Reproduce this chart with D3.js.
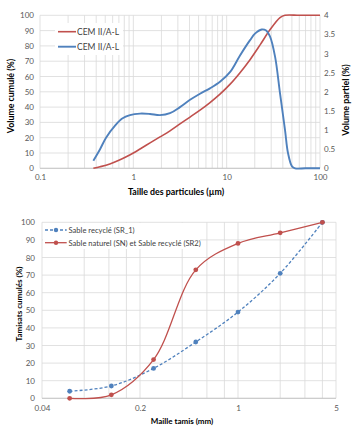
<!DOCTYPE html>
<html>
<head>
<meta charset="utf-8">
<script src="https://cdn.jsdelivr.net/npm/d3@7"></script>
<style>
  html, body { margin: 0; padding: 0; background: #fff; }
  svg { display: block; font-family: Lato, "Open Sans", sans-serif; }
  .tick text { fill: #595959; }
</style>
</head>
<body>
<svg id="chart" width="352" height="428"></svg>
<script>
// ---- Particle size distribution (top chart) ----
const psdSeriesName = "CEM II/A-L";
// cumulative volume (%) vs particle size (µm)
const cumulSize = [0.373, 0.44, 0.56, 0.7, 0.85, 1.0, 1.18, 1.51, 1.93, 2.47, 3.16, 4.05, 5.18, 6.63, 8.48, 10.9, 13.9, 17.8, 23.0, 29.1, 37.3, 42.2, 60, 100];
const cumulVolume = [0, 1, 2.8, 5.2, 7.7, 10, 12.6, 16.6, 20.5, 24.5, 29, 33.5, 38, 43, 48.5, 55, 62.5, 71, 81, 90.5, 98.5, 100, 100, 100];
// partial volume (%) vs particle size (µm)
const partSize = [0.373, 0.44, 0.51, 0.64, 0.76, 0.92, 1.18, 1.51, 1.93, 2.47, 3.16, 4.05, 5.18, 6.63, 8.48, 10.9, 13.9, 17.8, 20.1, 23.7, 26.5, 29.1, 33.0, 37.3, 42.2, 45.4, 50.1, 54, 70, 100];
const partVolume = [0.2, 0.5, 0.8, 1.12, 1.3, 1.39, 1.43, 1.42, 1.39, 1.44, 1.6, 1.79, 1.95, 2.09, 2.26, 2.52, 2.95, 3.35, 3.52, 3.63, 3.6, 3.45, 2.92, 1.96, 1.0, 0.4, 0.05, 0, 0, 0];
const topXLabels = [0.1, 1, 10, 100];
const topYLeftTicks = [0, 10, 20, 30, 40, 50, 60, 70, 80, 90, 100];
const topYRightTicks = [0, 0.5, 1, 1.5, 2, 2.5, 3, 3.5, 4];

// ---- Sieve analysis (bottom chart) ----
const sieveSizes = [0.063, 0.125, 0.25, 0.5, 1, 2, 4];
const recycledName = "Sable recyclé (SR_1)";
const recycledPassing = [4, 7, 17, 32, 49, 71, 100];
const mixName = "Sable naturel (SN) et Sable recyclé (SR2)";
const mixPassing = [0, 2, 22, 73, 88, 94, 100];
const bottomXLabels = [0.04, 0.2, 1, 5];
const bottomYTicks = [0, 10, 20, 30, 40, 50, 60, 70, 80, 90, 100];

const RED = "#C0504D", BLUE = "#4F81BD", GRID = "#d9d9d9";
const svg = d3.select("#chart");

// minor gridline positions for a log axis: k * base^n between bounds
function logGrid(lo, hi, base, mults) {
  const out = [];
  for (let m = lo; m < hi * 1.0001; m *= base) {
    mults.forEach(k => { const v = m * k; if (v <= hi * 1.0001) out.push(v); });
  }
  return out;
}

function fmt(v) { return String(+v.toFixed(2)); }

// ===================== TOP CHART =====================
(function () {
  const x = d3.scaleLog().domain([0.1, 100]).range([40, 320]);
  const yL = d3.scaleLinear().domain([0, 100]).range([168.3, 15.3]);
  const yR = d3.scaleLinear().domain([0, 4]).range([168.3, 15.3]);
  const g = svg.append("g");

  // vertical grid
  g.append("g").selectAll("line")
    .data(logGrid(0.1, 100, 10, [1, 2, 3, 4, 5, 6, 7, 8, 9]))
    .join("line")
    .attr("x1", d => x(d)).attr("x2", d => x(d))
    .attr("y1", yL(0)).attr("y2", yL(100))
    .attr("stroke", GRID).attr("stroke-width", 0.8);
  // horizontal grid
  g.append("g").selectAll("line")
    .data(topYLeftTicks)
    .join("line")
    .attr("x1", x(0.1)).attr("x2", x(100))
    .attr("y1", d => yL(d)).attr("y2", d => yL(d))
    .attr("stroke", GRID).attr("stroke-width", 0.8);

  // axes (labels only)
  const ax = g.append("g").attr("transform", `translate(0,${yL(0)})`)
    .call(d3.axisBottom(x).tickValues(topXLabels).tickFormat(fmt).tickSize(0).tickPadding(6));
  const ayl = g.append("g").attr("transform", `translate(${x(0.1)},0)`)
    .call(d3.axisLeft(yL).tickValues(topYLeftTicks).tickSize(0).tickPadding(6));
  const ayr = g.append("g").attr("transform", `translate(${x(100)},0)`)
    .call(d3.axisRight(yR).tickValues(topYRightTicks).tickFormat(fmt).tickSize(0).tickPadding(4));
  [ax, ayl, ayr].forEach(a => {
    a.select(".domain").remove();
    a.selectAll("text").attr("font-size", 8).attr("font-family", "Lato, sans-serif");
  });
  g.append("line").attr("x1", x(0.1)).attr("x2", x(100)).attr("y1", yL(0)).attr("y2", yL(0))
    .attr("stroke", "#bfbfbf").attr("stroke-width", 0.8);

  // series
  const lineL = d3.line().x(d => x(d[0])).y(d => yL(d[1])).curve(d3.curveCatmullRom.alpha(0.5));
  const lineR = d3.line().x(d => x(d[0])).y(d => Math.min(yR(0), yR(d[1]))).curve(d3.curveCatmullRom.alpha(0.5));
  g.append("path").datum(d3.zip(cumulSize, cumulVolume))
    .attr("d", lineL).attr("fill", "none").attr("stroke", RED).attr("stroke-width", 1.6);
  g.append("path").datum(d3.zip(partSize, partVolume))
    .attr("d", lineR).attr("fill", "none").attr("stroke", BLUE).attr("stroke-width", 1.9);

  // legend
  const lg = g.append("g");
  lg.append("rect").attr("x", 55).attr("y", 23).attr("width", 68).attr("height", 32).attr("fill", "#fff");
  [[RED, 31.7], [BLUE, 46.7]].forEach(([c, yy]) => {
    lg.append("line").attr("x1", 58).attr("x2", 76).attr("y1", yy).attr("y2", yy)
      .attr("stroke", c).attr("stroke-width", c === RED ? 1.6 : 1.9);
    lg.append("text").attr("x", 77).attr("y", yy + 3).attr("font-size", 8.5)
      .attr("fill", "#404040").text(psdSeriesName);
  });

  // titles
  g.append("text").attr("x", 176).attr("y", 195).attr("text-anchor", "middle")
    .attr("font-size", 8.8).attr("font-weight", "bold").attr("fill", "#000")
    .text("Taille des particules (µm)");
  g.append("text").attr("transform", "translate(14,96) rotate(-90)").attr("text-anchor", "middle")
    .attr("font-size", 8.8).attr("font-weight", "bold").attr("fill", "#000")
    .text("Volume cumulé (%)");
  g.append("text").attr("transform", "translate(349,100) rotate(-90)").attr("text-anchor", "middle")
    .attr("font-size", 8.8).attr("font-weight", "bold").attr("fill", "#000")
    .text("Volume partiel (%)");
})();

// ===================== BOTTOM CHART =====================
(function () {
  const x = d3.scaleLog().base(5).domain([0.04, 5]).range([42, 336]);
  const y = d3.scaleLinear().domain([0, 100]).range([398.3, 222.3]);
  const g = svg.append("g");

  g.append("g").selectAll("line")
    .data(logGrid(0.04, 5, 5, [1, 2, 3, 4]))
    .join("line")
    .attr("x1", d => x(d)).attr("x2", d => x(d))
    .attr("y1", y(0)).attr("y2", y(100))
    .attr("stroke", GRID).attr("stroke-width", 0.8);
  g.append("g").selectAll("line")
    .data(bottomYTicks)
    .join("line")
    .attr("x1", x(0.04)).attr("x2", x(5))
    .attr("y1", d => y(d)).attr("y2", d => y(d))
    .attr("stroke", GRID).attr("stroke-width", 0.8);

  const ax = g.append("g").attr("transform", `translate(0,${y(0)})`)
    .call(d3.axisBottom(x).tickValues(bottomXLabels).tickFormat(fmt).tickSize(0).tickPadding(7));
  const ay = g.append("g").attr("transform", `translate(${x(0.04)},0)`)
    .call(d3.axisLeft(y).tickValues(bottomYTicks).tickSize(0).tickPadding(7));
  [ax, ay].forEach(a => {
    a.select(".domain").remove();
    a.selectAll("text").attr("font-size", 8).attr("font-family", "Lato, sans-serif");
  });
  g.append("line").attr("x1", x(0.04)).attr("x2", x(5)).attr("y1", y(0)).attr("y2", y(0))
    .attr("stroke", "#bfbfbf").attr("stroke-width", 0.8);

  const line = d3.line().x(d => x(d[0])).y(d => y(d[1])).curve(d3.curveCatmullRom.alpha(0.5));
  const series = [
    { name: recycledName, vals: recycledPassing, color: BLUE, dash: "3,2", w: 1.3 },
    { name: mixName, vals: mixPassing, color: RED, dash: null, w: 1.3 }
  ];

  // legend background
  g.append("rect").attr("x", 43).attr("y", 223).attr("width", 157).attr("height", 26).attr("fill", "#fff");

  series.forEach((s, i) => {
    const pts = d3.zip(sieveSizes, s.vals);
    g.append("path").datum(pts).attr("d", line).attr("fill", "none")
      .attr("stroke", s.color).attr("stroke-width", s.w)
      .attr("stroke-dasharray", s.dash);
    g.append("g").selectAll("circle").data(pts).join("circle")
      .attr("cx", d => x(d[0])).attr("cy", d => y(d[1])).attr("r", 2.4)
      .attr("fill", s.color);

    const ly = 230 + i * 12.7;
    g.append("line").attr("x1", 45).attr("x2", 66.7).attr("y1", ly).attr("y2", ly)
      .attr("stroke", s.color).attr("stroke-width", s.w).attr("stroke-dasharray", s.dash);
    g.append("circle").attr("cx", 56).attr("cy", ly).attr("r", 2.2).attr("fill", s.color);
    g.append("text").attr("x", 68.5).attr("y", ly + 2.8).attr("font-size", 7.6)
      .attr("fill", "#404040").text(s.name);
  });

  g.append("text").attr("x", 182).attr("y", 424).attr("text-anchor", "middle")
    .attr("font-size", 8).attr("font-weight", "bold").attr("fill", "#000")
    .text("Maille tamis (mm)");
  g.append("text").attr("transform", "translate(22,304) rotate(-90)").attr("text-anchor", "middle")
    .attr("font-size", 8).attr("font-weight", "bold").attr("fill", "#000")
    .text("Tamisats cumulés (%)");
})();
</script>
</body>
</html>
